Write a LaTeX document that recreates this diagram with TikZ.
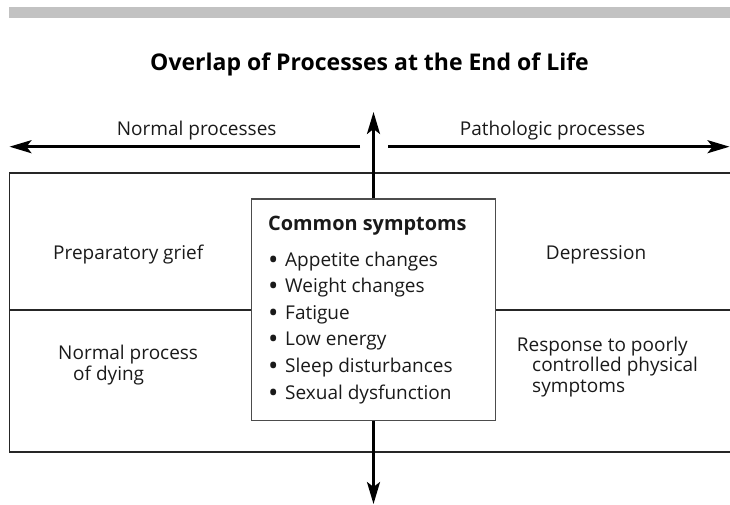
\documentclass[tikz,border=0pt]{standalone}
\usepackage{fontspec}
\setmainfont{Open Sans}
\usetikzlibrary{arrows.meta}
\definecolor{bargray}{HTML}{C2C2C2}
\definecolor{txt}{HTML}{1A1A1A}
\newcommand{\bodyfont}{\fontsize{19}{22}\selectfont}
\newcommand{\mybullet}{\makebox[17pt][l]{\raisebox{-3pt}{\scalebox{1.45}{\textbullet}}}}
\tikzset{
  body/.style={font=\bodyfont, text=txt, inner sep=0pt, anchor=base west},
  bodyc/.style={font=\bodyfont, text=txt, inner sep=0pt, anchor=base},
  bigarrow/.style={line width=2.6pt, -{Stealth[length=22pt,width=13pt,inset=5pt]}},
  thinline/.style={line width=1.1pt, draw=black!85},
  symbox/.style={draw=black!70, line width=1.1pt, fill=white, minimum width=244pt, minimum height=221.7pt, inner sep=0pt}
}
\begin{document}
\begin{tikzpicture}[x=1pt,y=-1pt]
\useasboundingbox (0,0) rectangle (730,504);
% top bar
\fill[bargray] (9,7) rectangle (730,18);
% title
\node[font=\bfseries\fontsize{23}{27}\selectfont, text=black, inner sep=0pt, anchor=base] (title) at (369.5,70.7) {Overlap of Processes at the End of Life};
% horizontal arrows
\coordinate (lstart) at (360,146.7);
\coordinate (lend) at (9.5,146.7);
\coordinate (rstart) at (388,146.7);
\coordinate (rend) at (729.5,146.7);
\draw[bigarrow] (lstart) -- (lend);
\draw[bigarrow] (rstart) -- (rend);
\node[bodyc] (normal) at (196.7,135) {Normal processes};
\node[bodyc] (patho) at (552.5,135) {Pathologic processes};
% outer frame
\coordinate (otr) at (730,173);
\coordinate (otl) at (9.5,173);
\coordinate (obl) at (9.5,452);
\coordinate (obr) at (730,452);
\draw[thinline] (otr) -- (otl) -- (obl) -- (obr);
\coordinate (divl) at (9.5,310);
\coordinate (divr) at (730,310);
\draw[thinline] (divl) -- (divr);
% center box
\node[symbox] (box) at (373.5,309.85) {};
\coordinate (toptip) at (373.5,112);
\coordinate (bottip) at (373.5,504);
\draw[bigarrow] (box.north) -- (toptip);
\draw[bigarrow] (box.south) -- (bottip);
% box contents
\node[body, font=\bfseries\fontsize{19.9}{23}\selectfont] (head) at (268,230) {Common symptoms};
\foreach \t [count=\i] in {Appetite changes, Weight changes, Fatigue, Low energy, Sleep disturbances, Sexual dysfunction}{
  \node[body] (b\i) at (268,{266+26.6*(\i-1)}) {\mybullet\t};
}
% side texts
\node[body] (prep) at (53,259) {Preparatory grief};
\node[body] (dep) at (545.7,259) {Depression};
\node[body] (npd1) at (58,359) {Normal process};
\node[body] (npd2) at (73,380.7) {of dying};
\node[body] (resp1) at (516.7,351) {Response to poorly};
\node[body] (resp2) at (532,371.7) {controlled physical};
\node[body] (resp3) at (532,392.4) {symptoms};
\end{tikzpicture}
\end{document}
